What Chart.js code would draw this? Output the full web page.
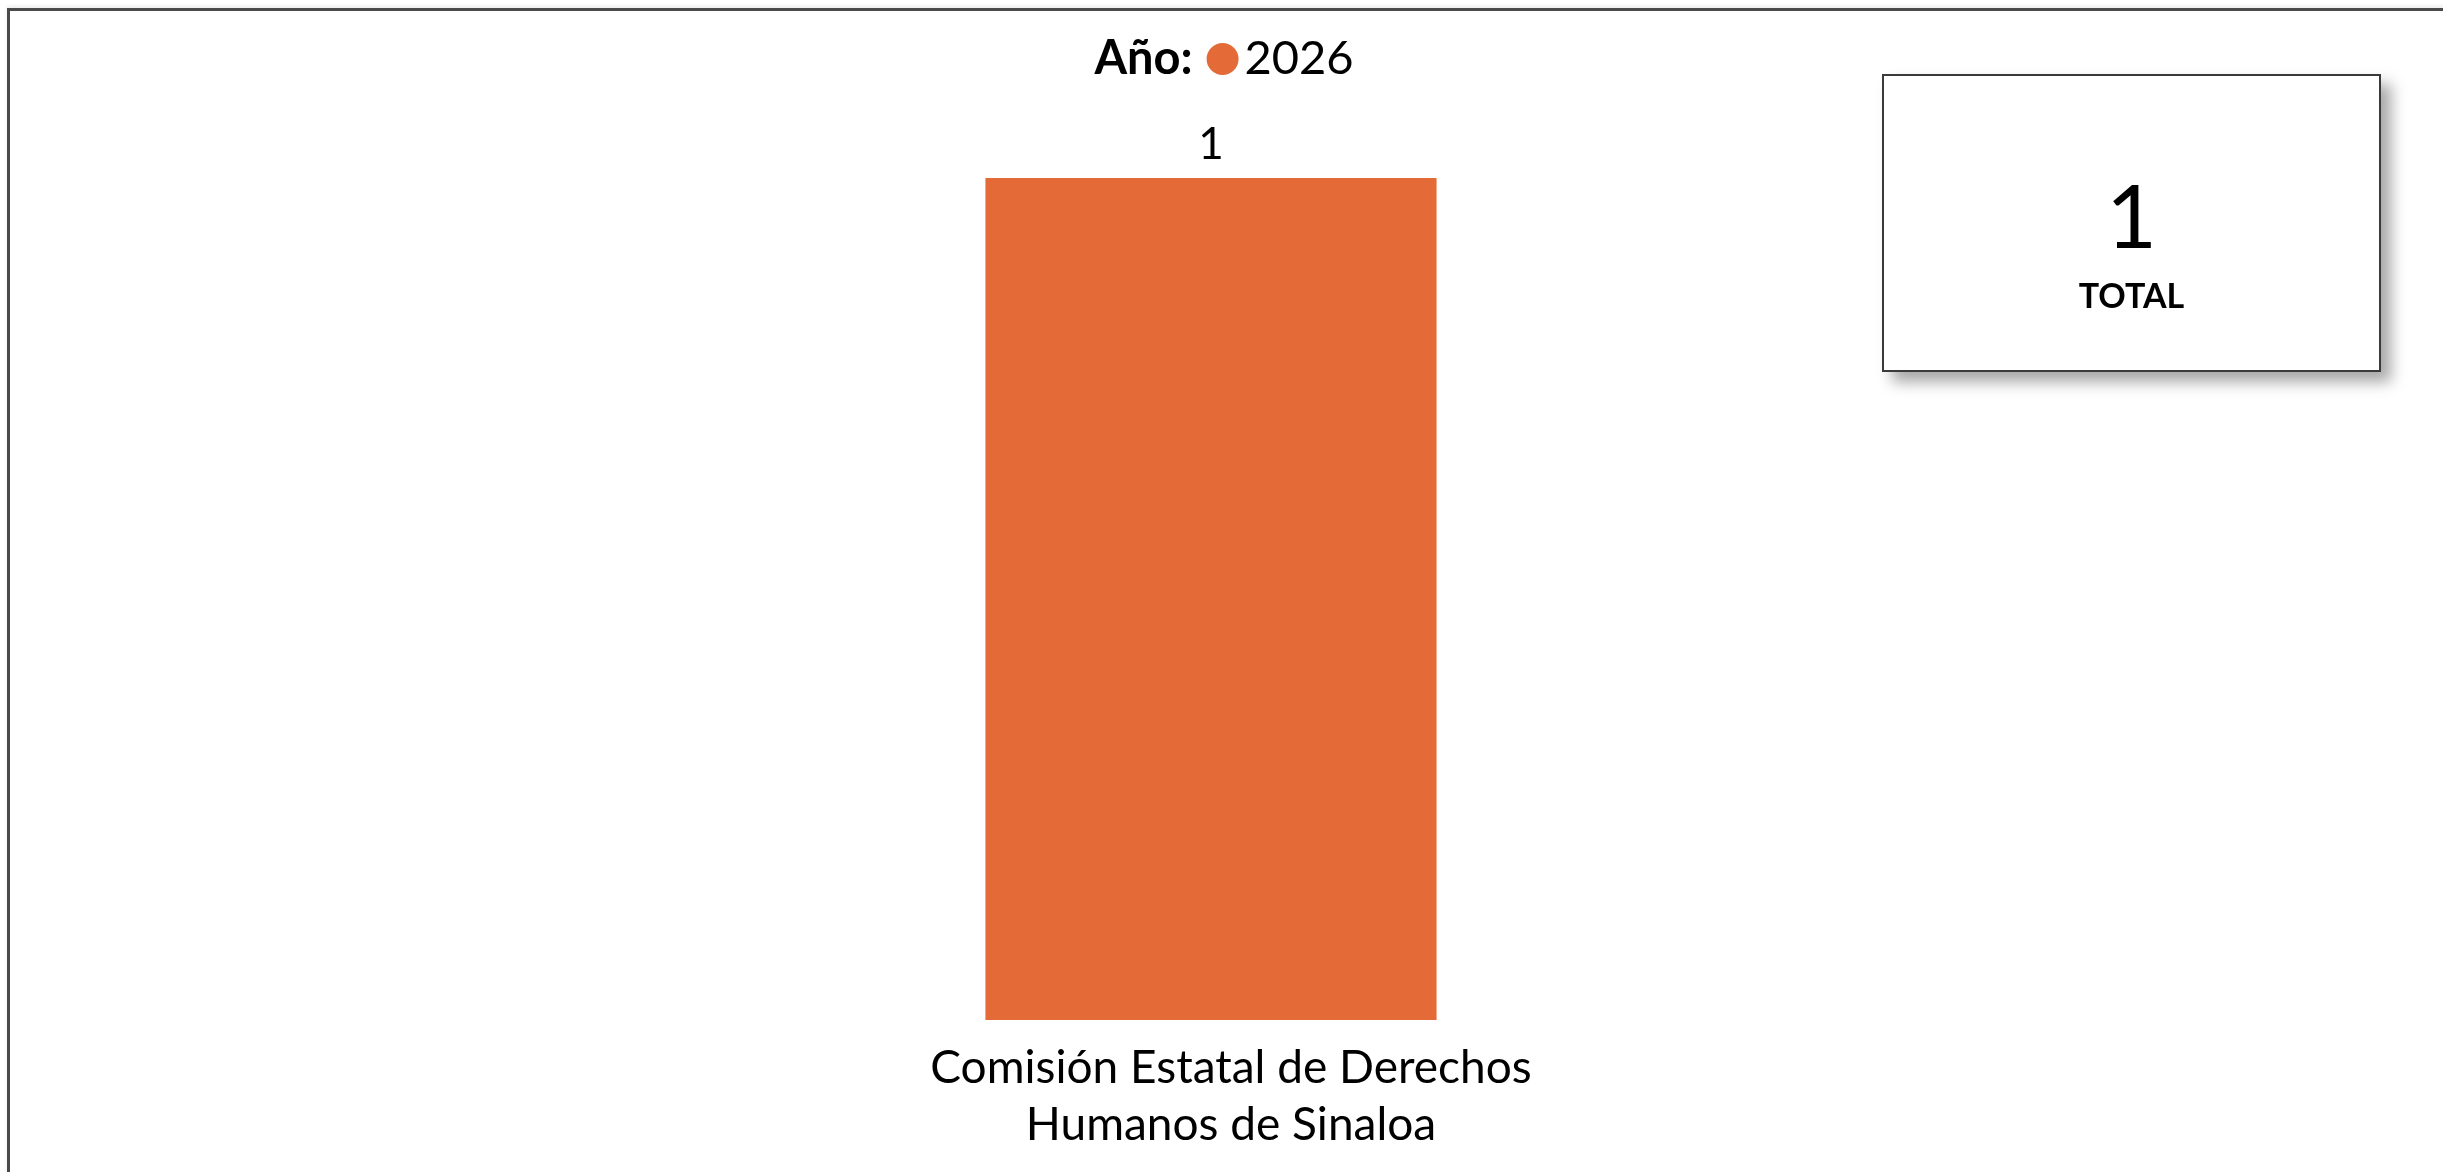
<!DOCTYPE html>
<html lang="es">
<head>
<meta charset="utf-8">
<title>Año 2026</title>
<script src="https://cdn.jsdelivr.net/npm/chart.js@4.4.1/dist/chart.umd.min.js"></script>
<style>
  html, body { margin:0; padding:0; background:#fff; overflow:hidden; }
  #wrap { position:relative; width:2443px; height:1172px; }
  #frame { position:absolute; left:7px; top:8px; width:2460px; height:1190px; border:3px solid #4a4a4a; box-sizing:border-box; box-shadow:0 -2px 4px rgba(0,0,0,0.08); }
  #chart { position:absolute; left:0; top:0; }
  #total-box {
    position:absolute; left:1882px; top:74px; width:499px; height:298px; box-sizing:border-box;
    border:2px solid #3a3a3a; background:#fff; box-shadow:10px 10px 14px rgba(0,0,0,0.35);
    font-family: Lato, "Open Sans", sans-serif; text-align:center; color:#000;
  }
  #total-num { position:absolute; left:0; right:0; top:94px; font-size:88px; line-height:1; }
  #total-lbl { position:absolute; left:0; right:0; top:202px; font-size:34px; font-weight:bold; line-height:1; }
</style>
</head>
<body>
<div id="wrap">
  <div id="frame"></div>
  <canvas id="chart" width="2443" height="1172"></canvas>
  <div id="total-box"><div id="total-num"></div><div id="total-lbl">TOTAL</div></div>
</div>
<script>
// chart data
const categories = [['Comisión Estatal de Derechos', 'Humanos de Sinaloa']];
const seriesLabel = '2026';
const seriesValues = [1];
const legendTitle = 'Año:';
const barColor = '#E46B37';

const FONT = 'Lato, "Open Sans", sans-serif';

// total box
document.getElementById('total-num').textContent = seriesValues.reduce((a, b) => a + b, 0);

// value labels above bars
const valueLabels = {
  id: 'valueLabels',
  afterDatasetsDraw(chart){
    const ctx = chart.ctx;
    ctx.save();
    ctx.font = '44px ' + FONT;
    ctx.fillStyle = '#000';
    ctx.textAlign = 'center';
    ctx.textBaseline = 'bottom';
    chart.getDatasetMeta(0).data.forEach((bar, i) => {
      ctx.fillText(String(chart.data.datasets[0].data[i]), bar.x, bar.y - 11);
    });
    ctx.restore();
  }
};

// legend: "Año: ● 2026" on one row
const inlineLegend = {
  id: 'inlineLegend',
  afterDraw(chart){
    const ctx = chart.ctx;
    const ds = chart.data.datasets[0];
    const cy = 59, r = 16;
    ctx.save();
    ctx.textBaseline = 'middle';
    ctx.font = 'bold 47px ' + FONT;
    const wTitle = ctx.measureText(legendTitle).width;
    ctx.font = '47px ' + FONT;
    const wLabel = ctx.measureText(ds.label).width;
    const gap1 = 14, gap2 = 6;
    const total = wTitle + gap1 + r * 2 + gap2 + wLabel;
    let x = 1224 - total / 2;
    ctx.fillStyle = '#000';
    ctx.textAlign = 'left';
    ctx.font = 'bold 47px ' + FONT;
    ctx.fillText(legendTitle, x, cy);
    x += wTitle + gap1;
    ctx.beginPath();
    ctx.arc(x + r, cy, r, 0, Math.PI * 2);
    ctx.fillStyle = ds.backgroundColor;
    ctx.fill();
    x += r * 2 + gap2;
    ctx.fillStyle = '#000';
    ctx.font = '47px ' + FONT;
    ctx.fillText(ds.label, x, cy);
    ctx.restore();
  }
};

new Chart(document.getElementById('chart').getContext('2d'), {
  type: 'bar',
  data: {
    labels: categories,
    datasets: [{ label: seriesLabel, data: seriesValues, backgroundColor: barColor, borderWidth: 0 }]
  },
  options: {
    responsive: false,
    animation: false,
    devicePixelRatio: 1,
    layout: { padding: { left: 30, right: 51, top: 178, bottom: 0 } },
    plugins: { legend: { display: false }, tooltip: { enabled: false }, title: { display: false } },
    datasets: { bar: { categoryPercentage: 1, barPercentage: 0.191 } },
    scales: {
      x: {
        grid: { display: false, drawTicks: false },
        border: { display: false },
        ticks: { color: '#000', font: { family: FONT, size: 46, lineHeight: 1.25 }, padding: 19, labelOffset: 20, maxRotation: 0 },
        afterFit(scale){ scale.height = 152; }
      },
      y: { display: false, min: 0, max: 1 }
    }
  },
  plugins: [valueLabels, inlineLegend]
});
</script>
</body>
</html>
